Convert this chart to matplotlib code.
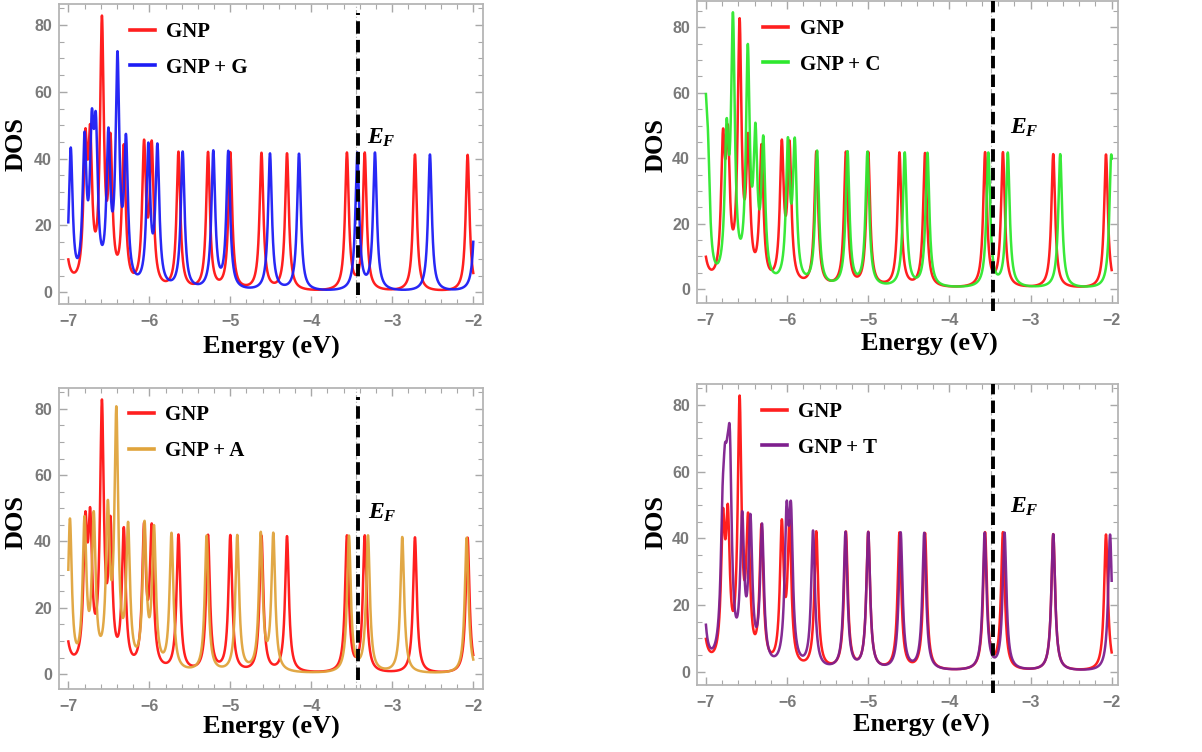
import numpy as np
import matplotlib
matplotlib.use("Agg")
import matplotlib.pyplot as plt
from matplotlib.ticker import MultipleLocator

# peak energies (eV) and peak amplitudes
gnp_E = [-7.16, -7.07, -6.79, -6.73, -6.585, -6.48, -6.315, -6.065, -5.97, -5.64,
         -5.275, -5.0, -4.615, -4.30, -3.56, -3.34, -2.72, -2.07]
gnp_A = [82, 41, 39, 39, 77, 40, 41, 41, 41, 41, 41, 41, 41, 41, 41, 41, 41, 41]

g_E = [-6.97, -6.80, -6.71, -6.66, -6.505, -6.393, -6.288, -6.012, -5.90, -5.588,
       -5.21, -5.025, -4.51, -4.152, -3.432, -3.214, -2.535, -1.963]
g_A = [41, 41, 39.5, 40, 42, 65.5, 41, 41, 41, 41, 41, 41, 41, 41, 41, 41, 41, 41]

c_E = [-7.01, -6.975, -6.745, -6.667, -6.484, -6.39, -6.293, -5.99, -5.905, -5.63,
       -5.255, -5.01, -4.55, -4.27, -3.52, -3.28, -2.634, -2.005]
c_A = [48, 28, 41, 77, 68, 40.5, 41, 41, 41, 41, 41, 41, 41, 41, 41, 41, 41, 41]

a_E = [-6.98, -6.80, -6.686, -6.512, -6.407, -6.262, -6.059, -5.942, -5.726, -5.292,
       -4.914, -4.624, -4.469, -3.535, -3.30, -2.877, -2.082]
a_A = [45, 43, 44, 45, 75, 41, 42, 41, 41, 41, 41, 41, 41, 41, 41, 41, 41]

t_E = [-7.12, -7.05, -6.795, -6.765, -6.735, -6.705, -6.553, -6.452, -6.309, -6.006,
       -5.952, -5.68, -5.28, -5.0, -4.60, -4.31, -3.565, -3.32, -2.72, -2.02]
t_A = [41, 41, 30, 32, 25, 50, 41, 41, 41, 41, 41, 41, 41, 41, 41, 41, 41, 41, 41, 41]

labels = ["GNP + G", "GNP + C", "GNP + A", "GNP + T"]
fermi = [-3.42, -3.465, -3.42, -3.465]

GAMMA = 0.028
energy = np.linspace(-7, -2, 4000)


def dos(centers, amps):
    c = np.asarray(centers)[:, None]
    a = np.asarray(amps)[:, None]
    return (a * GAMMA**2 / ((energy[None, :] - c) ** 2 + GAMMA**2)).sum(axis=0)


plt.rcParams["mathtext.fontset"] = "custom"
plt.rcParams["mathtext.it"] = "Liberation Serif:italic:bold"
plt.rcParams["mathtext.rm"] = "Liberation Serif:bold"

fig = plt.figure(figsize=(12.02, 7.52), dpi=100)
W, H = 1202, 752

# (left, top, right, bottom) in pixels
boxes = [(59, 4, 483, 304), (697, 1, 1118, 303),
         (59, 388, 483, 689), (697, 384, 1118, 685)]
xlims = [(-7.115, -1.88), (-7.11, -1.922), (-7.115, -1.88), (-7.11, -1.922)]
ylims = [(-3.5, 86.3), (-4.3, 88.1), (-4.5, 86.3), (-4.0, 86.3)]
others = [(g_E, g_A, "#1c1cf5"), (c_E, c_A, "#2ee82e"),
          (a_E, a_A, "#e0a43c"), (t_E, t_A, "#7e1f8e")]
ylab_pos = [(-0.073, 0.533), (-0.069, 0.523), (-0.073, 0.555), (-0.069, 0.54)]
xlab_pos = [(0.502, -0.107), (0.552, -0.099), (0.502, -0.09), (0.534, -0.095)]
leg_pos = [(0.167, 0.94), (0.157, 0.94), (0.165, 0.942), (0.154, 0.94)]
ef_text = [(-3.317, 44.6), (-3.253, 47.6), (-3.296, 47.0), (-3.253, 47.8)]

red = dos(gnp_E, gnp_A)
serif = "Liberation Serif"

for i in range(4):
    l, t, r, b = boxes[i]
    ax = fig.add_axes([l / W, 1 - b / H, (r - l) / W, (b - t) / H])
    ax.set_xlim(*xlims[i])
    ax.set_ylim(*ylims[i])

    ax.axvline(fermi[i] - 0.025, color="#b0b0b0", lw=0.8, ls=(0, (4, 2, 1, 2)), zorder=1)
    ax.plot(energy, red, color="#ff1f1f", lw=1.8, label="GNP", zorder=2)
    e, a, col = others[i]
    ax.plot(energy, dos(e, a), color=col, lw=1.8, label=labels[i], zorder=3, alpha=0.95)
    if i % 2 == 0:
        ax.axvline(fermi[i], ymin=0.03, ymax=0.97, color="black", lw=2.8,
                   ls=(0, (3.2, 1.6)), zorder=4)
    else:
        ax.axvline(fermi[i], ymin=-0.025, ymax=1.0, color="black", lw=2.8,
                   ls=(0, (3.2, 1.6)), zorder=4, clip_on=False)

    ax.text(ef_text[i][0], ef_text[i][1], "$E_F$", fontsize=17, ha="left", va="baseline")

    ax.set_xticks(range(-7, -1))
    ax.set_yticks([0, 20, 40, 60, 80])
    ax.xaxis.set_minor_locator(MultipleLocator(0.2))
    ax.yaxis.set_minor_locator(MultipleLocator(5))
    ax.tick_params(which="both", direction="in", top=True, right=True, color="#a8a8a8")
    ax.tick_params(which="major", length=6, width=1.0)
    ax.tick_params(which="minor", length=3.5, width=0.8)
    ax.tick_params(axis="x", pad=7)
    ax.tick_params(axis="y", pad=5)
    for lab in ax.get_xticklabels() + ax.get_yticklabels():
        lab.set_fontfamily("Liberation Sans")
        lab.set_fontweight("bold")
        lab.set_fontsize(11.5)
        lab.set_color("#7a7a7a")
    for s in ax.spines.values():
        s.set_color("#b5b5b5")
        s.set_linewidth(1.3)

    ax.set_ylabel("DOS", fontfamily=serif, fontweight="bold", fontsize=19)
    ax.yaxis.set_label_coords(*ylab_pos[i])
    ax.set_xlabel("Energy (eV)", fontfamily=serif, fontweight="bold", fontsize=19)
    ax.xaxis.set_label_coords(*xlab_pos[i])

    leg = ax.legend(loc="upper left", bbox_to_anchor=leg_pos[i], frameon=False,
                    borderpad=0, borderaxespad=0, handlelength=1.2,
                    handletextpad=0.55, labelspacing=0.75,
                    prop={"family": serif, "weight": "bold", "size": 15})
    for h in leg.get_lines():
        h.set_linewidth(2.6)
        h.set_alpha(1)

fig.savefig("out.png", dpi=100)
